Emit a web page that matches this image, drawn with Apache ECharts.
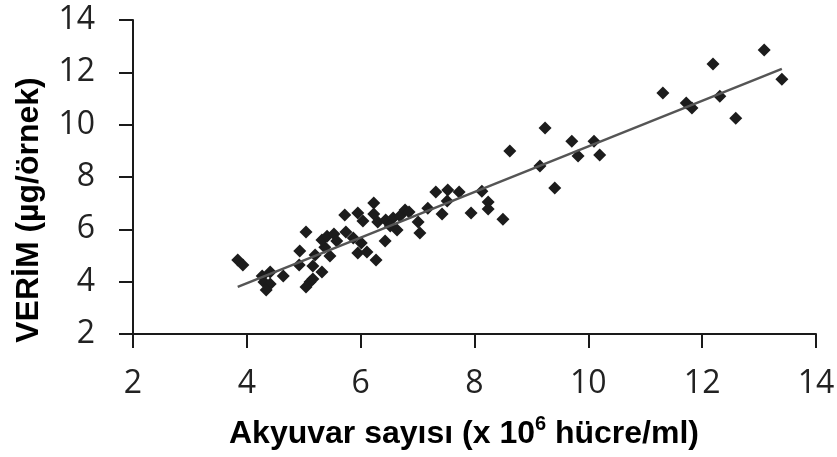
<!DOCTYPE html>
<html>
<head>
<meta charset="utf-8">
<script src="https://cdn.jsdelivr.net/npm/echarts@6/dist/echarts.min.js"></script>
<style>
html,body{margin:0;padding:0;background:#fff;}
#chart{width:837px;height:457px;}
</style>
</head>
<body>
<div id="chart"></div>
<script>
// Data
const cellCount = [3.84,3.93,4.27,4.41,4.30,4.41,4.34,4.64,4.93,5.04,4.92,5.11,5.04,5.16,5.20,5.16,5.32,5.37,5.32,5.41,5.53,5.58,5.46,5.74,
  5.72,5.95,6.04,6.23,6.23,6.30,6.44,6.57,6.69,6.78,6.85,6.52,6.64,7.01,7.04,7.18,7.43,7.32,7.53,7.73,7.52,8.13,8.24,8.24,7.94,8.50,8.62,
  6.43,5.87,6.01,5.95,6.11,6.27,
  9.15,9.24,9.41,9.71,9.82,10.10,10.20,11.31,11.72,11.82,12.19,12.31,12.59,13.09,13.40];
const yieldVals = [4.83,4.64,4.22,4.37,3.99,3.91,3.68,4.22,5.17,5.90,4.64,3.99,3.80,4.10,5.02,4.60,4.37,5.32,5.59,5.74,5.82,5.55,4.98,5.90,
  6.55,6.62,6.32,7.01,6.59,6.28,6.36,6.43,6.51,6.74,6.66,6.13,5.97,6.28,5.86,6.81,6.59,7.43,7.50,7.43,7.08,7.46,7.04,6.78,6.62,6.39,8.99,
  5.55,5.67,5.48,5.10,5.13,4.83,
  8.42,9.87,7.58,9.37,8.80,9.37,8.84,11.21,10.83,10.64,12.32,11.09,10.25,12.85,11.74];
const trendX = [3.84, 13.40];
const trendY = [3.80, 12.13];
const xTicks = [2,4,6,8,10,12,14];
const yTicks = [2,4,6,8,10,12,14];
const xTitle = ['Akyuvar sayısı (x 10', '6', ' hücre/ml)'];
const yTitle = 'VERİM (µg/örnek)';

const points = cellCount.map((x,i)=>[x, yieldVals[i]]);
const trend = trendX.map((x,i)=>[x, trendY[i]]);

const labelFont = "'Open Sans', 'DejaVu Sans', sans-serif";
const titleFont = "'Liberation Sans', Arial, sans-serif";

const chart = echarts.init(document.getElementById('chart'), null, {renderer:'canvas'});
chart.setOption({
  animation:false,
  backgroundColor:'#ffffff',
  grid:{left:133,right:21,top:20,bottom:123,containLabel:false,outerBoundsMode:'none'},
  xAxis:{
    type:'value', min:xTicks[0], max:xTicks[xTicks.length-1], interval:2,
    axisLine:{show:true,lineStyle:{color:'#1a1a1a',width:2}},
    axisTick:{show:true,inside:false,length:14,lineStyle:{color:'#1a1a1a',width:2}},
    splitLine:{show:false},
    axisLabel:{margin:34,fontSize:32,color:'#222',fontFamily:labelFont,fontWeight:'normal'},
    name:'{a|'+xTitle[0]+'}{s|'+xTitle[1]+'}{a|'+xTitle[2]+'}',
    nameLocation:'middle', nameGap:80,
    nameTextStyle:{
      padding:[0,21,0,0],
      rich:{
        a:{fontSize:32,fontWeight:'bold',fontFamily:titleFont,color:'#000',lineHeight:36,verticalAlign:'bottom'},
        s:{fontSize:20,fontWeight:'bold',fontFamily:titleFont,color:'#000',lineHeight:20,verticalAlign:'top'}
      }
    }
  },
  yAxis:{
    type:'value', min:yTicks[0], max:yTicks[yTicks.length-1], interval:2,
    axisLine:{show:true,lineStyle:{color:'#1a1a1a',width:2}},
    axisTick:{show:true,inside:false,length:14,lineStyle:{color:'#1a1a1a',width:2}},
    splitLine:{show:false},
    axisLabel:{margin:38,fontSize:32,color:'#222',fontFamily:labelFont,fontWeight:'normal'},
    name:yTitle, nameLocation:'middle', nameGap:88,
    nameTextStyle:{fontSize:32,fontWeight:'bold',fontFamily:titleFont,color:'#000',padding:[0,66,0,0]}
  },
  series:[
    {type:'scatter',data:points,symbol:'diamond',symbolSize:13,
      itemStyle:{color:'#1c1c1c',opacity:1},z:2},
    {type:'line',data:trend,symbol:'none',lineStyle:{color:'#555',width:2.5},z:3,silent:true}
  ]
});
</script>
</body>
</html>
